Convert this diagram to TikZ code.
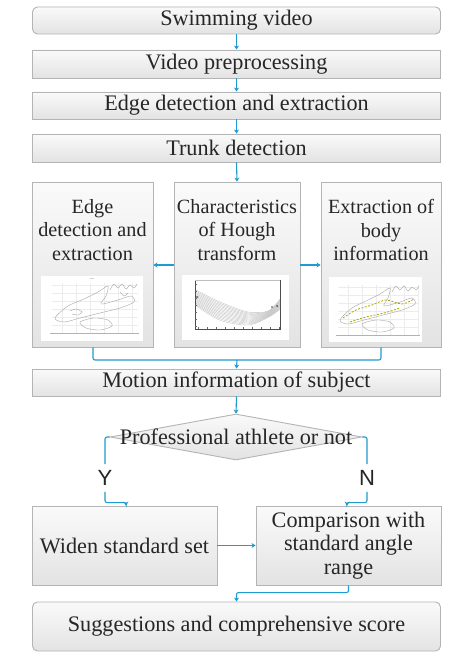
\documentclass[tikz,border=0pt]{standalone}
\usepackage{fontspec}
\setmainfont{Liberation Serif}
\newfontfamily\lsans{Liberation Sans}
\usetikzlibrary{shapes.geometric,arrows.meta}
\definecolor{cblue}{HTML}{1E9BD0}
\definecolor{bordergray}{HTML}{B4B4B4}
\tikzset{
  x=1pt,y=-1pt,
  box/.style={draw=bordergray,line width=0.9pt,top color=gray!4,bottom color=gray!22,inner sep=0pt,
    font=\fontsize{22.2}{23.5}\selectfont,align=center,text=black!85},
  rbox/.style={box,rounded corners=5pt},
  conn/.style={draw=cblue,line width=1.1pt},
  arr/.style={conn,-{Stealth[length=4pt,width=5pt]}},
  lbl/.style={font=\fontsize{22.2}{23.5}\selectfont,align=center,text=black!85,inner sep=0pt},
  tlbl/.style={font=\fontsize{20.2}{23.2}\selectfont,align=center,text=black!85,inner sep=0pt},
  curve/.style={draw=gray!70,line width=0.4pt},
}
\begin{document}
\begin{tikzpicture}
\useasboundingbox[fill=white] (0,0) rectangle (474,658);
% top boxes
\node[rbox,minimum width=408pt,minimum height=27pt] (sv) at (236.5,20.5) {Swimming video};
\node[box,minimum width=408pt,minimum height=28pt] (vp) at (236.5,64) {Video preprocessing};
\node[box,minimum width=408pt,minimum height=27pt] (ed) at (236.5,105.5) {Edge detection and extraction};
\node[box,minimum width=408pt,minimum height=28pt] (td) at (236.5,148) {Trunk detection};
\draw[arr] (sv.south) -- (vp.north);
\draw[arr] (vp.south) -- (ed.north);
\draw[arr] (ed.south) -- (td.north);
% three tall boxes
\node[box,minimum width=121pt,minimum height=165pt] (lb) at (92.5,264.5) {};
\node[box,minimum width=126pt,minimum height=165pt] (mb) at (237,264.5) {};
\node[box,minimum width=120pt,minimum height=165pt] (rb) at (381,264.5) {};
\node[tlbl,anchor=center] (lt) at (92.5,230) {Edge\\detection and\\extraction};
\node[tlbl,anchor=center] (mt) at (237,230) {Characteristics\\of Hough\\transform};
\node[tlbl,anchor=center] (rt) at (381,230) {Extraction of\\body\\information};
% images
\node[draw=none,fill=white,minimum width=102pt,minimum height=65pt,inner sep=0pt] (li) at (92,308.5) {};
\node[draw=none,fill=white,minimum width=107pt,minimum height=65pt,inner sep=0pt] (mi) at (235.5,307.5) {};
\node[draw=none,fill=white,minimum width=93pt,minimum height=65pt,inner sep=0pt] (ri) at (375.5,309.5) {};
% left plot
\begin{scope}
\foreach \yy in {285,293,301,309,317,325}{\draw[gray!15,line width=0.3pt] (52,\yy) -- (138,\yy);}
\foreach \xx in {62,76,90,104,118,132}{\draw[gray!15,line width=0.3pt] (\xx,283) -- (\xx,333);}
\draw[gray!60,line width=0.4pt] (50,333) -- (139,333);
\node[font=\fontsize{2}{2}\selectfont,text=gray] at (92,279) {frame};
\draw[curve] plot[smooth cycle] coordinates {(55,318) (68,306) (84,299) (98,292) (108,286) (106,296) (101,304) (118,300) (131,296) (134,302) (120,308) (100,313) (80,318) (64,322)};
\draw[curve] plot[smooth cycle] coordinates {(80,322) (94,318) (108,320) (112,326) (100,330) (86,328)};
\draw[curve] plot[smooth] coordinates {(110,290) (114,284) (118,288) (122,284) (126,289) (130,285) (134,288) (137,284)};
\draw[curve] plot[smooth] coordinates {(70,311) (76,309) (82,312) (78,315) (72,314)};
\draw[curve] plot[smooth] coordinates {(120,292) (124,296) (128,293)};
\end{scope}
% middle plot
\begin{scope}
\draw[black!70,line width=0.5pt] (195,280) -- (195,329) -- (280,329) -- (280,280);
\draw[gray!50,line width=0.3pt] (195,280) -- (280,280);
\foreach \i in {0,...,13}{
  \draw[gray!50,line width=0.35pt] plot[smooth] coordinates {(196,{290+1.2*\i}) (220,{302+1.4*\i}) (248,{312+1.0*\i}) (268,{311+0.5*\i}) (280,{299+0.8*\i})};
}
\foreach \xx in {198,207,216,225,234,243,252,261,270,279}{\draw[black!60,line width=0.3pt] (\xx,329) -- (\xx,327);}
\foreach \yy in {284,291,298,305,312,319,326}{\draw[black!60,line width=0.3pt] (195,\yy) -- (197,\yy);}
\fill[black!70] (197,297) circle (1pt) (277,306) circle (1pt) (272,307) circle (0.8pt);
\end{scope}
% right plot
\begin{scope}
\foreach \yy in {287,295,303,311,319,327}{\draw[gray!15,line width=0.3pt] (338,\yy) -- (418,\yy);}
\foreach \xx in {348,362,376,390,404,418}{\draw[gray!15,line width=0.3pt] (\xx,285) -- (\xx,335);}
\draw[gray!60,line width=0.4pt] (336,335) -- (420,335);
\draw[curve] plot[smooth cycle] coordinates {(340,320) (352,308) (366,301) (380,294) (390,288) (388,298) (384,306) (400,302) (412,298) (415,304) (402,310) (383,315) (364,320) (348,324)};
\draw[draw=olive!70!yellow,line width=0.8pt,dash pattern=on 2pt off 1.5pt] plot[smooth] coordinates {(343,318) (356,310) (372,305) (386,300) (402,304) (414,299)};
\draw[draw=olive!70!yellow,line width=0.8pt,dash pattern=on 2pt off 1.5pt] plot[smooth] coordinates {(350,322) (366,317) (384,313) (400,308)};
\draw[curve] plot[smooth cycle] coordinates {(362,324) (376,320) (390,322) (394,328) (382,332) (368,330)};
\draw[curve] plot[smooth] coordinates {(392,292) (396,286) (400,290) (404,286) (408,291) (412,287) (416,290) (419,286)};
\end{scope}
% arrows between tall boxes
\draw[arr] (td.south) -- (mb.north);
\draw[arr] (mb.west |- 0,265) -- (lb.east |- 0,265);
\draw[arr] (mb.east |- 0,265) -- (rb.west |- 0,265);
% motion
\node[box,minimum width=408pt,minimum height=27pt] (mo) at (236.5,382.5) {Motion information of subject};
\coordinate (mg) at (237,360);
\draw[conn,rounded corners=2pt] (lb.south -| 93,0) |- (mg) -| (rb.south);
\draw[arr] (mg) -- (mo.north);
% diamond
\node[diamond,draw=bordergray,line width=0.9pt,top color=gray!4,bottom color=gray!22,minimum width=252pt,minimum height=46pt,aspect=5.5,inner sep=0pt] (dia) at (236,437) {};
\node[lbl] (dt) at (236,437) {Professional athlete or not};
\draw[arr] (mo.south) -- (dia.north);
% Y / N
\node[font=\lsans\fontsize{22}{24}\selectfont,inner sep=0pt,text=black!85] (Y) at (105,478) {Y};
\node[font=\lsans\fontsize{22}{24}\selectfont,inner sep=0pt,text=black!85] (N) at (367,478) {N};
\draw[conn,rounded corners=2pt] (dia.west) -| ([yshift=6pt]Y.north);
\draw[conn,rounded corners=2pt] (dia.east) -| ([yshift=6pt]N.north);
% bottom boxes
\node[box,minimum width=185pt,minimum height=79pt] (wd) at (124.5,545.5) {Widen standard set};
\node[box,minimum width=185pt,minimum height=79pt] (cp) at (348.5,545.5) {Comparison with\\standard angle\\range};
\draw[arr,rounded corners=2pt] ([yshift=-6pt]Y.south) |- ([xshift=1.5pt,yshift=3pt]wd.north) -- ([xshift=1.5pt]wd.north);
\draw[arr,rounded corners=2pt] ([yshift=-6pt]N.south) |- ([xshift=-1.5pt,yshift=3pt]cp.north) -- ([xshift=-1.5pt]cp.north);
\draw[arr] (wd.east) -- (cp.west);
\node[rbox,minimum width=408pt,minimum height=49pt] (sg) at (236.5,626.5) {Suggestions and comprehensive score};
\draw[arr,rounded corners=2pt] (cp.south) |- ([yshift=9pt]sg.north) -- (sg.north);
\end{tikzpicture}
\end{document}
